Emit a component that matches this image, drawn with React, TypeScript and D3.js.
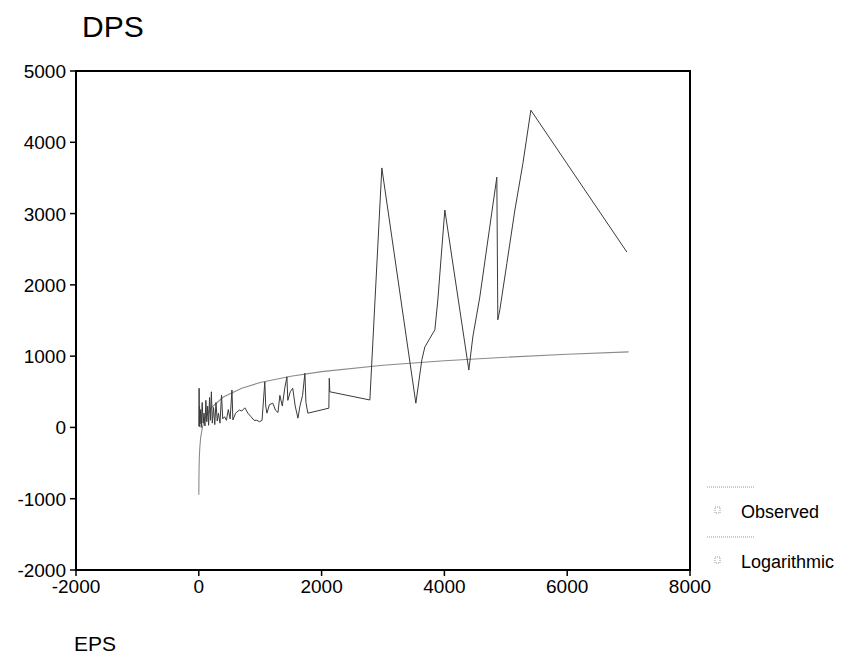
import React from "react";
import * as d3 from "d3";

// Observed series (EPS vs DPS), sorted by EPS
const obsEPS = [3, 5, 8, 12, 20, 30, 40, 55, 70, 85, 100, 115, 130, 145, 160, 175, 190, 205, 220, 240, 260, 280, 300, 320, 345, 370, 390, 420, 450, 480, 510, 540, 555, 600, 660, 700, 750, 800, 850, 900, 945, 990, 1030, 1075, 1090, 1110, 1150, 1205, 1250, 1290, 1320, 1360, 1400, 1435, 1450, 1490, 1530, 1570, 1615, 1645, 1690, 1728, 1745, 1776, 2118, 2125, 2134, 2786, 2981, 3535, 3633, 3682, 3845, 3893, 4007, 4398, 4463, 4577, 4692, 4854, 4870, 4903, 5017, 5148, 5278, 5408, 6972];
const obsDPS = [20, 550, 10, 300, 50, 250, 0, 350, 60, 200, 20, 380, 80, 300, 30, 420, 100, 500, 60, 280, 40, 350, 90, 200, 60, 455, 120, 150, 100, 250, 120, 525, 105, 200, 245, 230, 275, 200, 150, 100, 100, 80, 100, 640, 300, 200, 320, 340, 240, 210, 450, 300, 550, 710, 380, 500, 550, 300, 130, 290, 450, 760, 350, 200, 270, 690, 500, 385, 3640, 340, 950, 1130, 1370, 1790, 3050, 805, 1270, 1830, 2530, 3510, 1510, 1650, 2300, 3050, 3700, 4450, 2460];

// Logarithmic fitted curve
const logEPS = [0.8, 1, 2, 4, 8, 15, 30, 60, 100, 200, 400, 700, 1000, 1500, 2000, 3000, 4000, 5000, 6000, 7000];
const logDPS = [-946, -897, -744, -591, -437, -299, -145, 8, 121, 274, 427, 551, 630, 719, 783, 872, 936, 985, 1026, 1060];

const xTicks = [-2000, 0, 2000, 4000, 6000, 8000];
const yTicks = [-2000, -1000, 0, 1000, 2000, 3000, 4000, 5000];
const legendLabels = ["Observed", "Logarithmic"];

const FONT = "'Liberation Sans', Arial, sans-serif";

export default function App() {
  const x = d3.scaleLinear().domain([-2000, 8000]).range([76, 690]);
  const y = d3.scaleLinear().domain([-2000, 5000]).range([570, 71]);
  const line = d3
    .line<[number, number]>()
    .x((d) => x(d[0]))
    .y((d) => y(d[1]));
  const obs: [number, number][] = obsEPS.map((e, i) => [e, obsDPS[i]]);
  const lg: [number, number][] = logEPS.map((e, i) => [e, logDPS[i]]);
  const [x0, x1] = x.range();
  const [y0, y1] = y.range();

  return (
    <svg
      width={849}
      height={664}
      style={{ position: "absolute", left: 0, top: 0, background: "#fff" }}
      fontFamily={FONT}
    >
      <rect x={0} y={0} width={849} height={664} fill="#fff" />
      <text x={82} y={37} fontSize={30} fill="#000">DPS</text>
      <text x={74} y={651} fontSize={21} fill="#000">EPS</text>

      {/* data */}
      <path d={line(lg) || ""} fill="none" stroke="#8a8a8a" strokeWidth={1.1} />
      <path d={line(obs) || ""} fill="none" stroke="#3a3a3a" strokeWidth={1} />

      {/* frame */}
      <rect x={x0} y={y1} width={x1 - x0} height={y0 - y1} fill="none" stroke="#000" strokeWidth={2} />

      {/* y axis */}
      {yTicks.map((t) => (
        <g key={"y" + t}>
          <line x1={x0 - 6} x2={x0} y1={y(t)} y2={y(t)} stroke="#000" strokeWidth={1.5} />
          <text x={66} y={y(t) + 7} fontSize={19} textAnchor="end" fill="#000">{t}</text>
        </g>
      ))}

      {/* x axis */}
      {xTicks.map((t) => (
        <g key={"x" + t}>
          <line x1={x(t)} x2={x(t)} y1={y0} y2={y0 + 6} stroke="#000" strokeWidth={1.5} />
          <text x={x(t)} y={593} fontSize={19} textAnchor="middle" fill="#000">{t}</text>
        </g>
      ))}

      {/* legend */}
      {legendLabels.map((lab, i) => (
        <g key={lab} transform={`translate(0, ${i * 50})`}>
          <line x1={707} x2={755} y1={487} y2={487} stroke="#999" strokeWidth={1} strokeDasharray="1,1" />
          <rect x={715} y={507} width={5} height={6} fill="none" stroke="#999" strokeWidth={1} strokeDasharray="1,1" />
          <text x={741} y={518} fontSize={18} fill="#000">{lab}</text>
        </g>
      ))}
    </svg>
  );
}
